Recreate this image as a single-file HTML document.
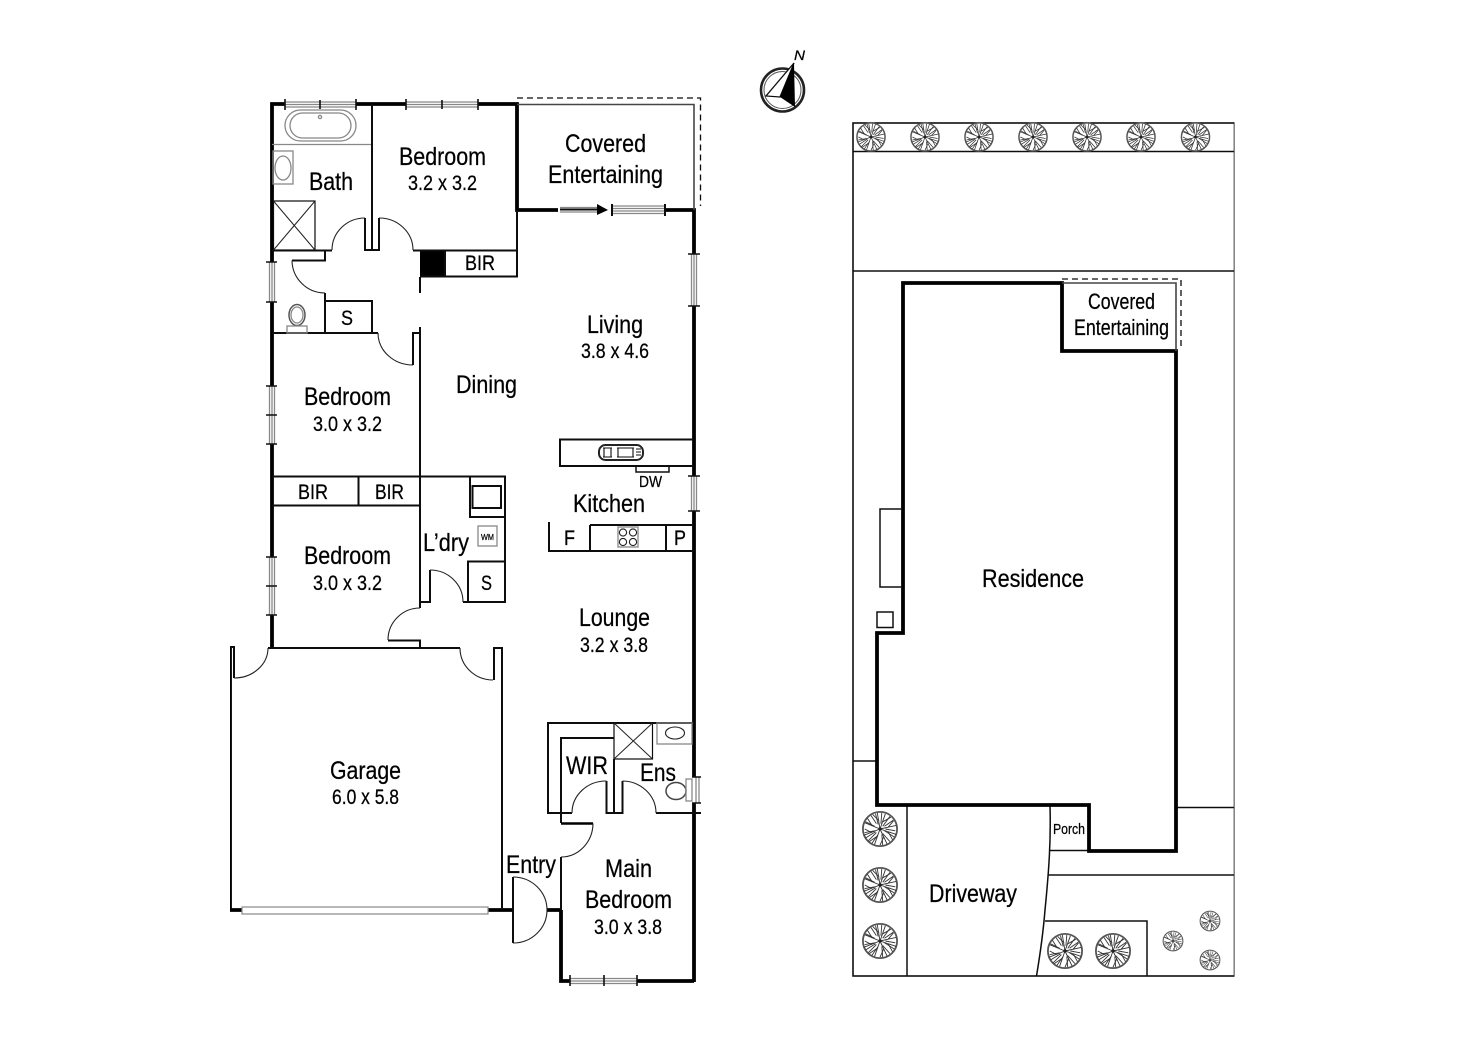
<!DOCTYPE html>
<html lang="en">
<head>
<meta charset="utf-8">
<title>Floor plan</title>
<style>
html,body{margin:0;padding:0;background:#fff;width:1472px;height:1041px;overflow:hidden}
svg{display:block}
text{font-family:"Liberation Sans",sans-serif;fill:#000;stroke:#000;stroke-width:.25}
.l{font-size:25px}
.d{font-size:21px}
.b{font-size:21px}
.m{font-size:22px}
.t{stroke:#111;stroke-width:1.5;fill:none}
.s{stroke:#111;stroke-width:2;fill:none}
.k{stroke:#000;stroke-width:3.8;fill:none}
.g{stroke:#888;stroke-width:1.3;fill:none}
.w{stroke:#888;stroke-width:1.2;fill:#fff}
.j{stroke:#111;stroke-width:1.6;fill:none}
.a{stroke:#222;stroke-width:1.1;fill:none}
.x{stroke:#222;stroke-width:1;fill:none}
</style>
</head>
<body>
<svg width="1472" height="1041" viewBox="0 0 1472 1041" xmlns="http://www.w3.org/2000/svg">
<defs>
<filter id="soft" x="0" y="0" width="100%" height="100%"><feGaussianBlur stdDeviation="0.35"/></filter>
<g id="tree">
<circle r="19" fill="#fff" stroke="#555" stroke-width="2"/>
<g stroke="#333" stroke-width="1" fill="none">
<path d="M0 0L-3 -18M-1 -9L-8 -16M0 0L6 -17M3 -8L12 -13M0 0L18 -4M9 -2L15 -9M0 0L18 6M9 3L14 12M0 0L8 17M4 9L0 18M0 0L-6 17M-3 8L-12 14M0 0L-18 7M-9 4L-17 0M0 0L-17 -7M-9 -4L-14 -12"/>
<path d="M-16 -8L-6 -3M-17 4L-6 2M-13 13L-4 4M-5 -17L-2 -5M11 -14L3 -3M16 9L5 2M-10 -15L-4 -6M2 -18L1 -6M15 -10L5 -3M17 2L6 0M11 14L3 5M3 18L2 6M-9 16L-2 6M-16 10L-5 3"/>
</g>
<circle r="1.8" fill="#222"/>
</g>
</defs>
<rect width="1472" height="1041" fill="#fff"/>
<g filter="url(#soft)">

<!-- Outer walls -->
<path class="k" d="M272 333V104H285M356 104H406M478 104H517V210H558M665 210H694V982M272 333V262M272 302V386M272 444V557M272 615V649"/>
<path class="k" d="M561 910V981H570M637 981H694"/>
<path class="k" d="M230 647V910H242M488 910H513M547 910H561"/>
<path class="k" d="M694 254V306" style="stroke:#fff;stroke-width:5"/>
<path class="k" d="M694 476V511M694 777V803" style="stroke:#fff;stroke-width:5"/>
<path class="k" d="M272 262V302M272 386V444M272 557V615" style="stroke:#fff;stroke-width:5"/>

<!-- Windows top -->
<path class="g" d="M285 102H356M285 104.500H356M285 107H356M406 102H478M406 104.500H478M406 107H478"/>
<path class="j" d="M285 99V110M320 100V109M356 99V110M406 99V110M442 100V109M478 99V110"/>
<!-- Window left -->
<path class="g" d="M269.500 262V302M272 262V302M274.500 262V302M269.500 386V444M272 386V444M274.500 386V444M269.500 557V615M272 557V615M274.500 557V615"/>
<path class="j" d="M266 262H277M266 302H277M266 386H277M266 415H277M266 444H277M266 557H277M266 586H277M266 615H277"/>
<!-- Window right -->
<path class="g" d="M691.500 254V306M694 254V306M696.500 254V306M691.500 476V511M694 476V511M696.500 476V511M696 777V803M699 777V803"/>
<path class="j" d="M688 254H700M688 306H700M688 476H700M688 511H700M692 777H701M692 803H701"/>
<!-- Sliding door -->
<path class="g" d="M560 207.500H600M560 212H600M612 206H665M612 208.500H665M612 211H665M612 213.500H665"/>
<path class="s" d="M560 209.500H598"/>
<polygon points="597,204 608,210 597,215" fill="#000"/>
<path class="s" d="M612 204V216M665 204V216"/>
<!-- Main bed window -->
<path class="g" d="M570 978.500H637M570 981H637M570 983.500H637"/>
<path class="j" d="M570 975V986M604 975V986M637 975V986"/>
<!-- Garage door -->
<rect x="242" y="907" width="246" height="7" class="w" stroke-width="1.500"/>

<!-- Covered entertaining -->
<path d="M517 104.500H694V210" fill="none" stroke="#444" stroke-width="1.600"/>
<path d="M517 98H700.500V206" fill="none" stroke="#111" stroke-width="1.300" stroke-dasharray="6 4"/>

<!-- Bath -->
<rect x="285" y="110" width="71" height="31" rx="15.500" class="g"/>
<rect x="290" y="113" width="61" height="25" rx="12.500" class="g"/>
<circle cx="320" cy="117" r="1.600" class="g"/>
<path class="g" d="M272 144.500H372"/>
<rect x="273" y="151" width="20" height="33" class="g"/>
<ellipse cx="283" cy="168" rx="8" ry="12" class="g"/>
<rect x="273.500" y="201" width="41.500" height="49" class="j" style="stroke-width:1.200"/>
<path class="x" d="M273.500 201L315 250M315 201L273.500 250"/>

<!-- Inner walls upper -->
<path class="s" d="M372 104V250M365 218V250H379V218M272 250.500H332"/>
<path class="a" d="M365 218A33 32 0 0 0 332 250M379 218A34 32 0 0 1 413 250"/>
<path class="s" d="M325 250V260.500H292"/>
<path class="a" d="M292 260.500A33 33 0 0 0 325 293"/>
<path class="s" d="M325 293V333M325 301H372V333M272 333H378"/>
<path class="a" d="M378 333A35 32 0 0 0 413 365"/>
<path class="s" d="M413 365V333H420M420 277V293M420 327V608"/>
<rect x="420" y="250" width="25" height="27" fill="#000"/>
<path class="s" d="M413 250.500H517V276.500H420M445 250V276M517 210V276"/>

<!-- Toilet -->
<ellipse cx="297" cy="315" rx="8" ry="10.500" fill="#fff" stroke="#555" stroke-width="1.500"/>
<ellipse cx="297" cy="315" rx="6" ry="8" class="g"/>
<rect x="287" y="326" width="20" height="7" class="g"/>

<!-- BIR & Laundry -->
<path class="s" d="M272 476.500H505V602H463M272 505.500H420M358.500 476V505"/>
<path class="s" d="M470 476V517H505"/>
<rect x="472.500" y="486" width="28.500" height="22" class="s"/>
<rect x="478" y="526" width="19" height="20" class="g"/>
<path class="s" d="M468 602V561.500H505"/>
<path class="s" d="M420 602H430V570"/>
<path class="a" d="M430 570A33 32 0 0 1 463 602"/>
<path class="a" d="M420 608A32 32 0 0 0 388 640"/>
<path class="s" d="M388 640.500H420V648"/>

<!-- Garage top -->
<path class="s" d="M268 648H460M494 680V648H502V910"/>
<path class="s" d="M234 678V647H230"/>
<path class="a" d="M234 678A34 30 0 0 0 268 648M460 648A33 32 0 0 0 493 680"/>

<!-- Kitchen -->
<path class="s" d="M694 439.500H560V466H694"/>
<rect x="599" y="445" width="44" height="15" rx="6.500" fill="none" stroke="#222" stroke-width="2"/>
<path class="s" d="M603 448H612M603 457H612M604 448V457M611 448V457M617 448H634M617 457H634M618 448V457M633 448V457M636 449H641M636 452H641M636 455H641" style="stroke-width:1.100"/>
<path class="t" d="M636 467V472H669V467"/>
<path class="s" d="M549 522V551H694M590 525V551M666 525V551M590 525H694"/>
<rect x="618" y="527" width="20" height="20" class="g"/>
<circle cx="623" cy="532.500" r="3.600" class="a"/><circle cx="633" cy="532.500" r="3.600" class="a"/>
<circle cx="623" cy="542" r="3.600" class="a"/><circle cx="633" cy="542" r="3.600" class="a"/>

<!-- Ensuite / WIR -->
<path class="s" d="M694 723H548V813H572M561 823V738H614"/>
<rect x="614" y="723" width="38.500" height="36" class="j" style="stroke-width:1.200"/>
<path class="x" d="M614 723L652.500 759M652.500 723L614 759"/>
<rect x="657" y="723" width="35" height="21" class="g"/>
<ellipse cx="675" cy="733" rx="9.500" ry="6" class="a"/>
<path class="s" d="M606.500 781V813H622.500V781M614 759V813M656 813H701"/>
<path class="a" d="M606.500 781A34 32 0 0 0 572 813M622.500 781A34 32 0 0 1 656 813"/>
<ellipse cx="676" cy="791" rx="10" ry="8.500" fill="#fff" stroke="#444" stroke-width="1.500"/>
<rect x="686" y="779" width="6" height="22" class="g"/>

<!-- Entry & main bed door -->
<path class="k" d="M561 823.500H593" style="stroke-width:2.500"/>
<path class="a" d="M593 823.500A32 34 0 0 1 561 857"/>
<path class="s" d="M561 857V910"/>
<path class="s" d="M513 877V943"/>
<path class="a" d="M513 877A34 33 0 0 1 513 943"/>

<!-- Site plan -->
<rect x="853" y="123" width="381.500" height="853" fill="none" stroke="#111" stroke-width="1.600"/>
<path class="t" d="M853 151.500H1234.500M853 271H1234.500M853 761H877M1176 807.500H1234.500M907 805V976M1049 850.500H1089M1048 875H1234.500M1045 921H1147V976"/>
<path class="t" d="M1050 805C1051 840 1049 870 1045 910C1043 935 1040 955 1036.500 976"/>
<path d="M903 633V283H1062V351H1176V851H1089V805H877V633Z" class="k"/>
<path d="M1062 283H1176V351" fill="none" stroke="#444" stroke-width="1.600"/>
<path d="M1062 279H1181V350" fill="none" stroke="#111" stroke-width="1.300" stroke-dasharray="6 4"/>
<path class="s" d="M902 509H880V587H902" style="stroke-width:1.500"/>
<rect x="877" y="612" width="16" height="15.500" class="s" style="stroke-width:1.500"/>

<!-- Trees -->
<use href="#tree" transform="translate(871 137) scale(.74)"/>
<use href="#tree" transform="translate(925 137) scale(.74)"/>
<use href="#tree" transform="translate(979 137) scale(.74)"/>
<use href="#tree" transform="translate(1033 137) scale(.74)"/>
<use href="#tree" transform="translate(1087 137) scale(.74)"/>
<use href="#tree" transform="translate(1141 137) scale(.74)"/>
<use href="#tree" transform="translate(1195.500 137) scale(.74)"/>
<use href="#tree" transform="translate(880 829) scale(.9)"/>
<use href="#tree" transform="translate(880 885) scale(.9)"/>
<use href="#tree" transform="translate(880 941) scale(.9)"/>
<use href="#tree" transform="translate(1065 951) scale(.9)"/>
<use href="#tree" transform="translate(1113 951) scale(.9)"/>
<use href="#tree" transform="translate(1173 941) scale(.52)"/>
<use href="#tree" transform="translate(1210 921) scale(.52)"/>
<use href="#tree" transform="translate(1210 960) scale(.52)"/>

<!-- Compass -->
<circle cx="782.500" cy="90" r="21.500" fill="#fff" stroke="#222" stroke-width="2.600"/>
<circle cx="782.500" cy="90" r="18.500" fill="none" stroke="#555" stroke-width="1"/>
<polygon points="794,63 766,96 780,97" fill="#fff" stroke="#111" stroke-width="1.300"/>
<polygon points="794,63 780,97 795,107" fill="#000"/>
<text x="794" y="60" font-size="14" font-style="italic" textLength="11" lengthAdjust="spacingAndGlyphs">N</text>

<!-- Labels -->
<text class="l" x="565" y="152" textLength="81" lengthAdjust="spacingAndGlyphs">Covered</text>
<text class="l" x="548" y="183" textLength="115" lengthAdjust="spacingAndGlyphs">Entertaining</text>
<text class="l" x="399" y="165" textLength="87" lengthAdjust="spacingAndGlyphs">Bedroom</text>
<text class="d" x="408" y="190" textLength="69" lengthAdjust="spacingAndGlyphs">3.2 x 3.2</text>
<text class="l" x="309" y="190" textLength="44" lengthAdjust="spacingAndGlyphs">Bath</text>
<text class="b" x="465" y="270" textLength="30" lengthAdjust="spacingAndGlyphs">BIR</text>
<text class="b" x="341" y="325" textLength="12" lengthAdjust="spacingAndGlyphs">S</text>
<text class="l" x="587" y="333" textLength="56" lengthAdjust="spacingAndGlyphs">Living</text>
<text class="d" x="581" y="358" textLength="68" lengthAdjust="spacingAndGlyphs">3.8 x 4.6</text>
<text class="l" x="456" y="393" textLength="61" lengthAdjust="spacingAndGlyphs">Dining</text>
<text class="l" x="304" y="405" textLength="87" lengthAdjust="spacingAndGlyphs">Bedroom</text>
<text class="d" x="313" y="431" textLength="69" lengthAdjust="spacingAndGlyphs">3.0 x 3.2</text>
<text class="b" x="298" y="499" textLength="30" lengthAdjust="spacingAndGlyphs">BIR</text>
<text class="b" x="375" y="499" textLength="29" lengthAdjust="spacingAndGlyphs">BIR</text>
<text class="l" x="304" y="564" textLength="87" lengthAdjust="spacingAndGlyphs">Bedroom</text>
<text class="d" x="313" y="590" textLength="69" lengthAdjust="spacingAndGlyphs">3.0 x 3.2</text>
<text class="l" x="573" y="512" textLength="72" lengthAdjust="spacingAndGlyphs">Kitchen</text>
<text x="639" y="487" font-size="16" textLength="23" lengthAdjust="spacingAndGlyphs">DW</text>
<text class="b" x="564" y="545" textLength="11" lengthAdjust="spacingAndGlyphs">F</text>
<text class="b" x="674" y="545" textLength="12" lengthAdjust="spacingAndGlyphs">P</text>
<text class="l" x="423" y="551" textLength="46" lengthAdjust="spacingAndGlyphs">L’dry</text>
<text x="481" y="540" font-size="8" textLength="13" lengthAdjust="spacingAndGlyphs">WM</text>
<text class="b" x="481" y="590" textLength="11" lengthAdjust="spacingAndGlyphs">S</text>
<text class="l" x="579" y="626" textLength="71" lengthAdjust="spacingAndGlyphs">Lounge</text>
<text class="d" x="580" y="652" textLength="68" lengthAdjust="spacingAndGlyphs">3.2 x 3.8</text>
<text class="l" x="330" y="779" textLength="71" lengthAdjust="spacingAndGlyphs">Garage</text>
<text class="d" x="332" y="804" textLength="67" lengthAdjust="spacingAndGlyphs">6.0 x 5.8</text>
<text class="l" x="566" y="774" textLength="42" lengthAdjust="spacingAndGlyphs">WIR</text>
<text class="l" x="640" y="781" textLength="36" lengthAdjust="spacingAndGlyphs">Ens</text>
<text class="l" x="506" y="873" textLength="50" lengthAdjust="spacingAndGlyphs">Entry</text>
<text class="l" x="605" y="877" textLength="47" lengthAdjust="spacingAndGlyphs">Main</text>
<text class="l" x="585" y="908" textLength="87" lengthAdjust="spacingAndGlyphs">Bedroom</text>
<text class="d" x="594" y="934" textLength="68" lengthAdjust="spacingAndGlyphs">3.0 x 3.8</text>
<text class="m" x="1088" y="309" textLength="67" lengthAdjust="spacingAndGlyphs">Covered</text>
<text class="m" x="1074" y="335" textLength="95" lengthAdjust="spacingAndGlyphs">Entertaining</text>
<text class="l" x="982" y="587" textLength="102" lengthAdjust="spacingAndGlyphs">Residence</text>
<text class="l" x="929" y="902" textLength="88" lengthAdjust="spacingAndGlyphs">Driveway</text>
<text x="1053" y="834" font-size="15" textLength="32" lengthAdjust="spacingAndGlyphs">Porch</text>
</g>
</svg>
</body>
</html>
